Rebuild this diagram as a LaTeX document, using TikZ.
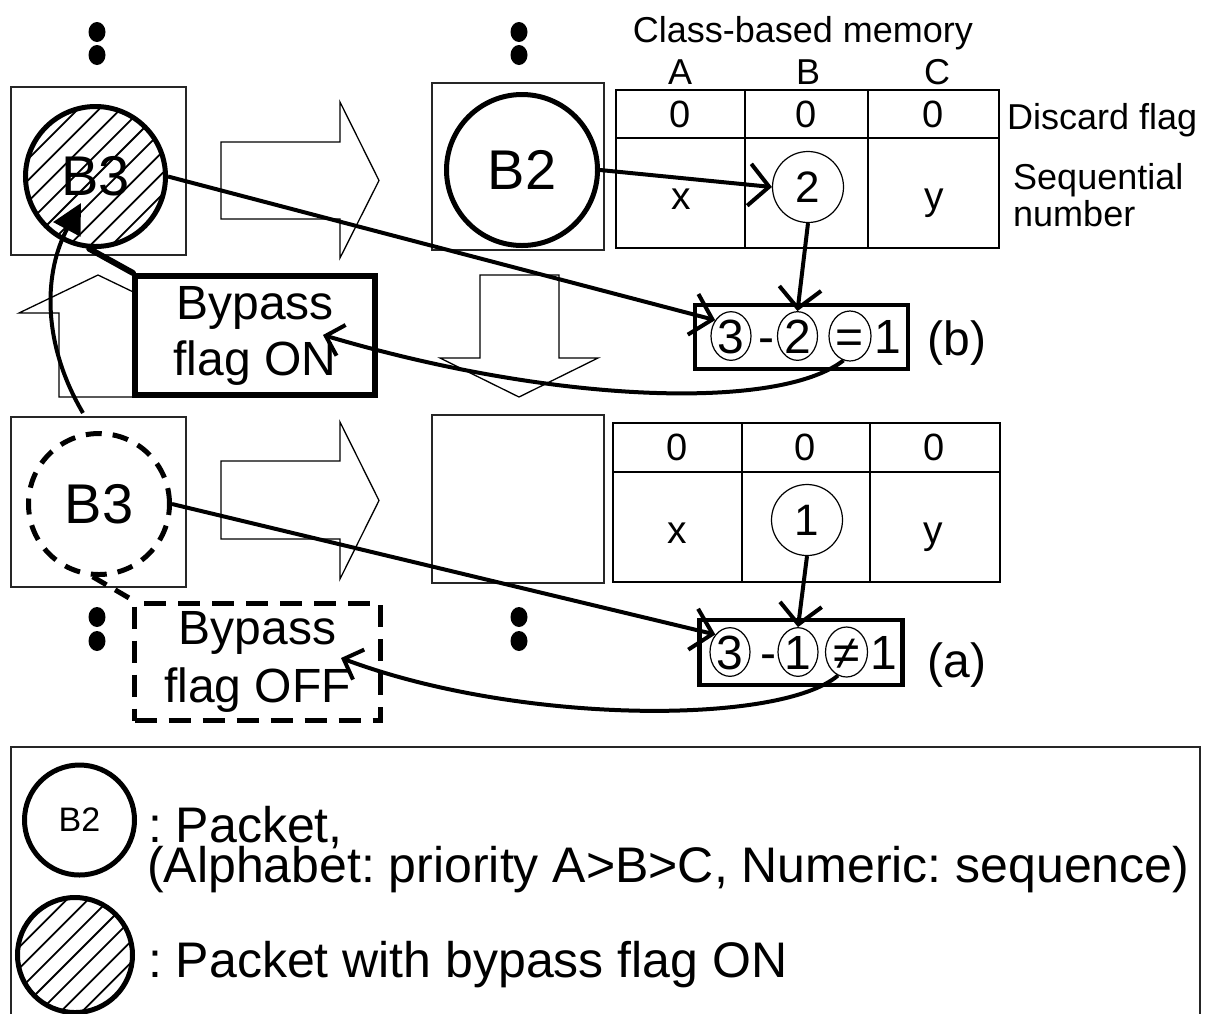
\documentclass[tikz,border=0pt]{standalone}
\usepackage{fontspec}
\setmainfont{Liberation Sans}
\usetikzlibrary{arrows.meta,shapes.geometric}
\frenchspacing
\tikzset{
  fs/.style={font=\fontsize{#1}{#1}\selectfont},
  thinbox/.style={draw=black!85, line width=1.5pt},
  tbl/.style={draw=black, line width=2pt},
  blockarrow/.style={draw=black, line width=1.3pt, fill=white, line join=miter},
  pkt/.style={circle, draw, line width=5pt, fill=white},
  numc/.style={ellipse, draw, line width=1.2pt},
  eqc/.style={numc, minimum width=40pt, minimum height=48pt, fs=48, text height=34.4pt, text depth=0pt},
  hatchl/.style={line width=1.8pt},
  conn/.style={line width=4pt, -{Straight Barb[length=20pt,width=42pt]}},
  conns/.style={line width=4pt, -{Straight Barb[length=16pt,width=32pt]}},
  dotf/.style={fill=black},
}
\begin{document}
\begin{tikzpicture}[x=1pt,y=-1pt, every node/.style={inner sep=0pt}]
\useasboundingbox (0,0) rectangle (1206,1013);

% dots
\foreach \px/\py in {97/32,97/55,519/32,519/55,97/617,97/641,519/617,519/641}
  \fill[dotf] (\px,\py) ellipse [x radius=8.5pt, y radius=10pt];

% block arrows
\draw[blockarrow] (221,142) -- (340,142) -- (340,102) -- (379,180.5) -- (340,258) -- (340,219) -- (221,219) -- cycle;
\draw[blockarrow] (221,461) -- (340,461) -- (340,422) -- (379,500.5) -- (340,579) -- (340,539) -- (221,539) -- cycle;
\draw[blockarrow] (59,397) -- (59,313) -- (19,313) -- (98,275) -- (177,313) -- (137,313) -- (137,397) -- cycle;
\draw[blockarrow] (480,275) -- (559,275) -- (559,358) -- (598,358) -- (519,397) -- (440,358) -- (480,358) -- cycle;

% packet boxes
\node[thinbox, minimum width=175pt, minimum height=168pt] (tlbox) at (98.5,171) {};
\node[thinbox, minimum width=172pt, minimum height=167pt] (tmbox) at (518,166.5) {};
\node[thinbox, minimum width=175pt, minimum height=170pt] (blbox) at (98.5,502) {};
\node[thinbox, minimum width=172pt, minimum height=168pt] (bmbox) at (518,499) {};

% legend box
\draw[thinbox] (11,1040) -- (11,747) -- (1200,747) -- (1200,1040);

% class-based memory tables
\node[fs=36, anchor=base] (cbm) at (803,42) {Class-based memory};
\node[fs=36, anchor=base] (hA) at (680,84) {A};
\node[fs=36, anchor=base] (hB) at (808,84) {B};
\node[fs=36, anchor=base] (hC) at (937,84) {C};
\draw[tbl] (616,90) rectangle (999,248);
\draw[tbl] (616,138) -- (999,138);
\draw[tbl] (745,90) -- (745,248);
\draw[tbl] (868,90) -- (868,248);
\node[fs=38, anchor=base] (t0a) at (680.5,127) {0};
\node[fs=38, anchor=base] (t0b) at (806.5,127) {0};
\node[fs=38, anchor=base] (t0c) at (933.5,127) {0};
\node[fs=39, anchor=base] (tx) at (681,209) {x};
\node[fs=39, anchor=base] (ty) at (934,209) {y};
\node[numc, minimum size=71pt, fs=44] (c2) at (808,187) {2};

\draw[tbl] (613,423) rectangle (1000,582);
\draw[tbl] (613,472) -- (1000,472);
\draw[tbl] (742,423) -- (742,582);
\draw[tbl] (870,423) -- (870,582);
\node[fs=38, anchor=base] (u0a) at (677,460) {0};
\node[fs=38, anchor=base] (u0b) at (805,460) {0};
\node[fs=38, anchor=base] (u0c) at (934,460) {0};
\node[fs=39, anchor=base] (ux) at (677,543) {x};
\node[fs=39, anchor=base] (uy) at (933,543) {y};
\node[numc, minimum size=71pt, fs=44] (c1) at (807,520) {1};

\node[fs=36, anchor=base west] (disc) at (1007,129) {Discard flag};
\node[fs=36, anchor=base west] (seq1) at (1013,189) {Sequential};
\node[fs=36, anchor=base west] (seq2) at (1013,226) {number};

% packets
\node[pkt, minimum size=140pt, fs=56] (hb3) at (95.5,176.5) {B3};
\begin{scope}[shift={(95.5,176.5)}]
  \clip (0,0) circle[radius=70pt];
  \foreach \k in {0,...,14} \draw[hatchl] (\k*21.2-258.4,110) -- ++(220,-220);
\end{scope}
\node[pkt, minimum size=151pt, fs=56] (pb2) at (522,170) {B2};
\node[pkt, dash pattern=on 16pt off 11pt, minimum size=141pt, fs=56] (db3) at (99,504) {B3};

% bypass boxes
\draw[line width=6pt, line cap=round] (hb3.265) -- (133,273);
\node[draw, line width=6pt, fill=white, minimum width=240pt, minimum height=119pt, align=center, font=\fontsize{48}{56}\selectfont] (onbox) at (255,335.5) {Bypass\\flag ON};
\draw[line width=5pt, dash pattern=on 16pt off 10pt] (db3.265) -- (136,602);
\node[draw, line width=5pt, dash pattern=on 22pt off 12pt, fill=white, minimum width=246pt, minimum height=117pt, align=center, font=\fontsize{48}{58}\selectfont] (offbox) at (257.5,662) {Bypass\\flag OFF};

% equation box (b)
\node[draw, line width=4.5pt, minimum width=213pt, minimum height=64pt] (bbox) at (801.5,337) {};
\node[eqc] (b3) at (731,336) {3};
\node[fs=48, anchor=base] (bminus) at (766,353) {-};
\node[eqc] (b2) at (797.5,336) {2};
\node[eqc, minimum width=42pt, minimum height=50pt] (beq) at (850,336) {=};
\node[fs=48, anchor=base] (bone) at (888,353) {1};
\node[fs=48, anchor=base] (blab) at (957,355) {(b)};

% equation box (a)
\node[draw, line width=4.5pt, minimum width=203pt, minimum height=65pt] (abox) at (801,652.5) {};
\node[eqc] (a3) at (730,652) {3};
\node[fs=48, anchor=base] (aminus) at (768,669) {-};
\node[eqc] (a1) at (798,652) {1};
\node[eqc, minimum width=42pt, minimum height=50pt] (aneq) at (846.5,652) {≠};
\node[fs=48, anchor=base] (aone) at (884,669) {1};
\node[fs=48, anchor=base] (alab) at (957,677) {(a)};

% legend
\node[pkt, minimum size=110pt, fs=34] (lgb2) at (79.5,820) {B2};
\node[pkt, minimum size=115pt] (lghb) at (75,955) {};
\begin{scope}[shift={(75,955)}]
  \clip (0,0) circle[radius=57.5pt];
  \foreach \k in {0,...,14} \draw[hatchl] (\k*21.2-258.4,110) -- ++(220,-220);
\end{scope}
\node[fs=50, anchor=base west] (lg1) at (148,842) {: Packet,};
\node[fs=50, anchor=base west] (lg2) at (147,882) {(Alphabet: priority A>B>C, Numeric: sequence)};
\node[fs=50, anchor=base west] (lg3) at (148,977) {: Packet with bypass flag ON};

% connectors
\coordinate (onTip) at (323,335);
\coordinate (offTip) at (341,658);
\coordinate (upStart) at (83,413);
\coordinate (upTip) at (81,203);
\draw[conn] (pb2.east) -- (c2.west);
\draw[conn] (c2.south) -- (b2.north);
\draw[conn] (hb3.east) -- (b3.135);
\draw[conn] (c1.south) -- (a1.north);
\draw[conn] (db3.east) -- (a3.130);
\draw[conns] (beq.255) .. controls (780,410) and (560,405) .. (onTip);
\draw[conns] (aneq.250) .. controls (780,725) and (520,725) .. (offTip);
\draw[line width=4pt, -{Triangle[length=30pt,width=30pt]}] (upStart) .. controls (40,340) and (45,270) .. (upTip);
\end{tikzpicture}
\end{document}
